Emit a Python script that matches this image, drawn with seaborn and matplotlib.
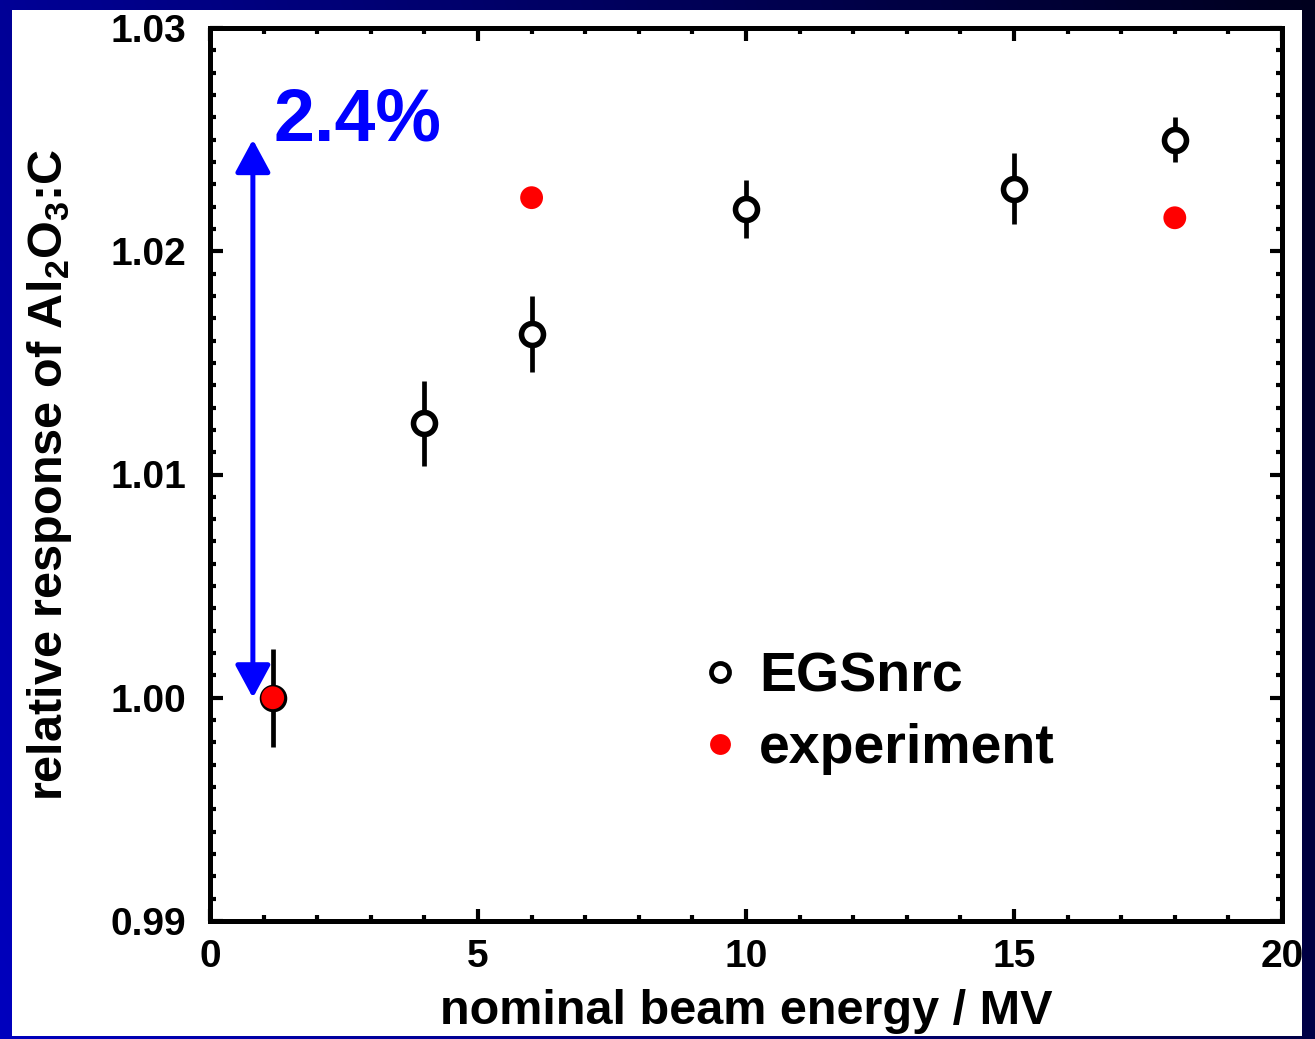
import numpy as np
import pandas as pd
import matplotlib
matplotlib.use("Agg")
import matplotlib.pyplot as plt
from matplotlib.patches import Rectangle
from matplotlib.lines import Line2D
import seaborn as sns

# ---- data ----
egs_energy = [1.17, 4, 6, 10, 15, 18]
egs_response = [1.0000, 1.0123, 1.0163, 1.0219, 1.0228, 1.0250]
egs_err = [0.0022, 0.0019, 0.0017, 0.0013, 0.0016, 0.0010]

exp_energy = [1.17, 6, 18]
exp_response = [1.0000, 1.0224, 1.0215]

x_ticks = [0, 5, 10, 15, 20]
y_ticks = [0.99, 1.00, 1.01, 1.02, 1.03]
annot_text = "2.4%"
arrow_x = 0.8
arrow_lo, arrow_hi = 1.000, 1.025

egs = pd.DataFrame({"energy": egs_energy, "response": egs_response, "err": egs_err})
exp = pd.DataFrame({"energy": exp_energy, "response": exp_response})

sns.set_theme(style="white")
plt.rcParams["font.family"] = ["Liberation Sans", "DejaVu Sans"]
plt.rcParams["font.weight"] = "bold"
plt.rcParams["text.color"] = "black"
plt.rcParams["axes.labelcolor"] = "black"
plt.rcParams["xtick.color"] = "black"
plt.rcParams["ytick.color"] = "black"
plt.rcParams["mathtext.fontset"] = "custom"
plt.rcParams["mathtext.rm"] = "Liberation Sans:bold"
plt.rcParams["mathtext.it"] = "Liberation Sans:bold"
plt.rcParams["mathtext.bf"] = "Liberation Sans:bold"
plt.rcParams["mathtext.default"] = "rm"

W, H = 1315, 1039
fig = plt.figure(figsize=(W / 100, H / 100), dpi=100)

# navy gradient background with white panel
bg = fig.add_axes([0, 0, 1, 1], zorder=-10)
gx = np.linspace(0, 1, 200)[None, :]
gy = np.linspace(1, 0, 160)[:, None]
blue = np.clip(190 - 120 * gx - 40 * gy, 0, 255) / 255.0
img = np.zeros((160, 200, 3))
img[..., 2] = blue
bg.imshow(img, aspect="auto", extent=[0, 1, 0, 1], interpolation="bilinear")
bg.add_patch(Rectangle((12 / W, 3 / H), (1302 - 12) / W, (1036 - 10) / H,
                       transform=bg.transAxes, facecolor="white",
                       edgecolor="none", zorder=5))
bg.set_xlim(0, 1)
bg.set_ylim(0, 1)
bg.axis("off")

ax = fig.add_axes([210 / W, 1 - 921 / H, (1282 - 210) / W, (921 - 28) / H])
ax.set_facecolor("white")

ax.errorbar(egs["energy"], egs["response"], yerr=egs["err"], fmt="none",
            ecolor="black", elinewidth=3.4, capsize=0, zorder=2)
sns.scatterplot(data=egs, x="energy", y="response", ax=ax, marker="o",
                s=250, facecolor="white", edgecolor="black", linewidth=4.0,
                zorder=3, legend=False)
sns.scatterplot(data=exp, x="energy", y="response", ax=ax, marker="o",
                s=270, color="#ff0000", edgecolor="none", linewidth=0,
                zorder=4, legend=False)

ax.annotate("", xy=(arrow_x, arrow_lo), xytext=(arrow_x, arrow_hi),
            arrowprops=dict(arrowstyle="<|-|>,head_length=0.5,head_width=0.27",
                            color="#0000ff", lw=3.6, shrinkA=0, shrinkB=0,
                            mutation_scale=40), zorder=5)
ax.text(1.18, 1.02498, annot_text, color="#0000ff", fontsize=53,
        fontweight="bold", ha="left", va="baseline")

ax.set_xlim(0, 20)
ax.set_ylim(0.99, 1.03)
ax.set_xticks(x_ticks)
ax.set_yticks(y_ticks)
ax.set_xticklabels([str(t) for t in x_ticks])
ax.set_yticklabels([f"{t:.2f}" for t in y_ticks])
ax.xaxis.set_minor_locator(matplotlib.ticker.MultipleLocator(1))
ax.yaxis.set_minor_locator(matplotlib.ticker.MultipleLocator(0.001))
ax.tick_params(which="both", direction="in", top=True, right=True,
               bottom=True, left=True, color="black", labelcolor="black", width=3)
ax.tick_params(which="major", length=9, labelsize=28, pad=13)
ax.tick_params(axis="y", which="major", pad=17)
ax.tick_params(which="minor", length=4.5)
for lab in ax.get_xticklabels() + ax.get_yticklabels():
    lab.set_fontweight("bold")
for s in ax.spines.values():
    s.set_linewidth(3.6)
    s.set_color("black")
    s.set_visible(True)

ax.set_xlabel("nominal beam energy / MV", fontsize=35, fontweight="bold",
              labelpad=10, color="black")
ax.set_ylabel("relative response of Al$_2$O$_3$:C", fontsize=35,
              fontweight="bold", labelpad=26, color="black")

handles = [
    Line2D([], [], marker="o", linestyle="none", markersize=13,
           markerfacecolor="white", markeredgecolor="black", markeredgewidth=3.4),
    Line2D([], [], marker="o", linestyle="none", markersize=15,
           markerfacecolor="#ff0000", markeredgecolor="none"),
]
leg = ax.legend(handles, ["EGSnrc", "experiment"], loc="upper left",
                bbox_to_anchor=(0.455, 0.302), frameon=False, fontsize=40,
                handlelength=0.8, handletextpad=0.3, labelspacing=0.36,
                borderpad=0, borderaxespad=0)
for t in leg.get_texts():
    t.set_fontweight("bold")
    t.set_color("black")

fig.savefig("out.png", dpi=100)
